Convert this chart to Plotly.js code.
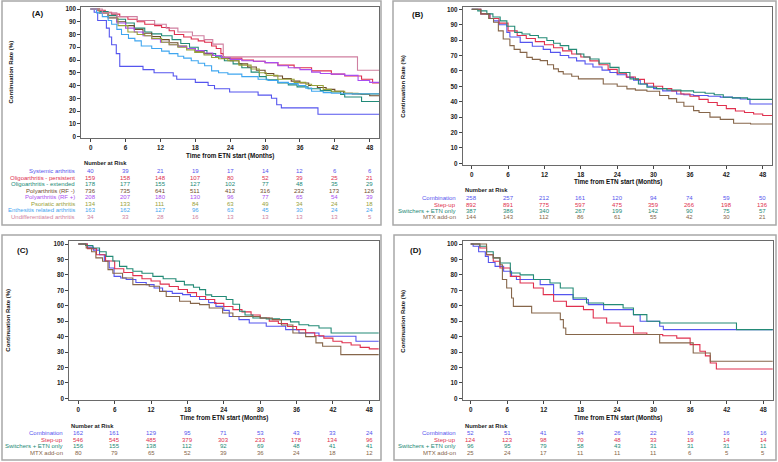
<!DOCTYPE html>
<html>
<head>
<meta charset="utf-8">
<script src="https://cdn.plot.ly/plotly-3.0.1.min.js"></script>
<style>html,body{margin:0;padding:0;background:#fff}#chart{width:778px;height:462px}</style>
</head>
<body>
<div id="chart"></div>
<script>
// months shown in the number-at-risk tables
const riskTimes = [0, 6, 12, 18, 24, 30, 36, 42, 48];

// ---- panel A: JIA categories ----
const aNames = ['Systemic arthritis', 'Oligoarthritis - persistent', 'Oligoarthritis - extended', 'Polyarthritis (RF -)',
  'Polyarthritis (RF +)', 'Psoriatic arthritis', 'Enthesitis related arthritis', 'Undifferentiated arthritis'];
const aRisk = [
  [40, 39, 21, 19, 17, 14, 12, 6, 6],
  [159, 158, 148, 107, 80, 52, 39, 25, 21],
  [178, 177, 155, 127, 102, 77, 48, 35, 29],
  [736, 735, 641, 511, 413, 316, 232, 173, 126],
  [208, 207, 180, 130, 96, 77, 65, 54, 39],
  [134, 133, 111, 84, 63, 49, 34, 24, 18],
  [163, 162, 127, 96, 63, 45, 30, 24, 24],
  [34, 33, 28, 16, 13, 13, 13, 13, 5],
];
const sysT = [0, 0.6, 1.2, 2.7, 3.2, 3.6, 4.4, 5.0, 9.0, 10.9, 14.2, 14.8, 18.0, 20.2, 21.3, 23.9, 28.8, 31.1, 32.0, 32.8, 39.1, 49.7];
const sysS = [100, 97.5, 91, 85, 78, 72, 65, 55, 52.5, 50, 47.5, 45, 42.5, 40, 37.5, 35, 32.5, 30, 25, 22.5, 17.5, 17.5];
const opT = [0, 1, 2.5, 3.6, 5, 6.4, 8, 9.3, 11, 12.2, 13.5, 14.4, 16, 17.3, 18.5, 19.6, 20.8, 21.6, 22.4, 22.8, 26, 28, 30, 32.2, 35, 38, 41.4, 43.7, 46.6, 48.5, 49.7];
const opS = [100, 99, 97.5, 96, 94, 92, 90, 88, 87, 85.5, 83, 80, 78, 76.5, 75, 74, 71, 69, 65, 61.5, 60, 59, 58, 56, 54, 51.5, 49, 47.5, 45, 42, 41.5];
const oeT = [0, 1.5, 3, 4.5, 6, 7.5, 9.3, 10.5, 12.2, 14, 15.5, 17, 18.5, 20, 21.5, 23, 24.5, 26, 27.6, 29, 30.2, 32.2, 34, 35.5, 37.4, 39.5, 41.4, 43, 43.7, 46.6, 49.7];
const oeS = [100, 98, 95, 92, 89, 85, 82, 80.5, 79, 76, 73, 70, 67.5, 65, 62.5, 59.5, 57, 54, 50.5, 47, 44.5, 42, 40.5, 39, 37.5, 36, 35, 33, 31, 27.5, 27];
const pnT = [0, 1.5, 3, 4.5, 6, 7.5, 9, 10.5, 12, 13.5, 15, 16.5, 18, 19.5, 21, 22.5, 24, 25.5, 27, 28.5, 30, 31.5, 33, 34.5, 36, 37.5, 39, 40.5, 42, 43.5, 45, 46.5, 48, 49.7];
const pnS = [100, 97, 93.5, 90, 87, 84, 81, 78.5, 76, 73.5, 71, 69, 67, 65, 63.5, 61.5, 59.5, 57, 54.5, 52, 49.5, 47.5, 45.5, 43.5, 42, 40, 38.5, 37, 35.5, 34, 33.5, 33, 32, 31.5];
const ppT = [0, 1.5, 3, 4.5, 6, 7.5, 9, 10.5, 12, 13.5, 15, 16.5, 18, 19.5, 21, 22.5, 24, 26, 28, 30, 32.2, 34, 36, 38, 39.5, 41.4, 43.7, 46, 48, 49.7];
const ppS = [100, 97, 93, 89, 85, 82, 79, 76.5, 74, 72, 70.5, 69, 67.5, 65.5, 63.5, 62, 60.5, 59.5, 59, 58, 55.5, 54, 52.5, 50.5, 49.5, 49, 48, 44, 42.5, 42.5];
const psT = [0, 1.5, 3, 4.7, 6.4, 8, 9.3, 10.5, 12.2, 13.5, 15, 16.5, 17.9, 19.5, 20.8, 22, 23.6, 25.5, 27.6, 29, 30.2, 32.2, 35, 37, 38, 40, 41.4, 43.7, 46, 49.7];
const psS = [100, 97, 93, 87, 82, 80, 79, 77, 74, 72, 70, 68, 66, 64, 62, 61, 59.5, 56, 53, 50, 48, 45, 42.5, 41, 40, 37, 35.5, 34, 33.5, 33.5];
const erT = [0, 1, 2, 3, 3.6, 4.5, 5.3, 6.5, 7.6, 8.7, 10.5, 12.2, 13.5, 15, 16, 17.3, 18.5, 19.6, 20.8, 22, 23.6, 26, 28.8, 30.5, 32.2, 34, 35.7, 37, 38, 40, 41.4, 43.7, 49.7];
const erS = [100, 97, 94, 91, 88, 84, 80, 77, 75, 71, 69, 67, 65, 63, 61.5, 59.5, 57.5, 55.5, 51.5, 50, 49, 47, 45, 44, 42.5, 41.5, 40, 38, 35.5, 34.5, 34, 33.5, 33.5];
const udT = [0, 2, 4.5, 8, 11, 13, 15, 17.5, 19.5, 21, 22.8, 45.9, 49.7];
const udS = [100, 97, 94, 91, 88, 85, 82, 79, 76, 72.5, 62.5, 52, 52];

// ---- panels B-D: treatment strategies ----
const stratNames = ['Combination', 'Step-up', 'Switchers + ETN only', 'MTX add-on'];
const bRisk = [
  [258, 257, 212, 161, 120, 94, 74, 59, 50],
  [892, 891, 775, 597, 475, 359, 266, 198, 136],
  [387, 386, 340, 267, 199, 142, 90, 75, 57],
  [144, 143, 112, 86, 61, 55, 42, 30, 21],
];
const cRisk = [
  [162, 161, 129, 95, 71, 53, 43, 33, 24],
  [546, 545, 485, 379, 303, 233, 178, 134, 96],
  [156, 155, 138, 112, 92, 69, 48, 41, 41],
  [80, 79, 65, 52, 39, 36, 24, 18, 12],
];
const dRisk = [
  [52, 51, 41, 34, 26, 22, 16, 16, 16],
  [124, 123, 98, 70, 48, 33, 19, 14, 14],
  [96, 95, 79, 58, 43, 31, 31, 31, 11],
  [25, 24, 17, 11, 11, 11, 6, 5, 5],
];

const bCoT = [0, 1.5, 3, 3.6, 4.5, 5.8, 6.3, 8, 10, 11.8, 13, 14.6, 16, 17.3, 18.7, 20, 21.5, 22.8, 24, 25.6, 26.7, 27.8, 29, 30, 31.5, 33.8, 35, 36.6, 39, 41, 43, 44.3, 45.9, 49.7];
const bCoS = [100, 97, 94, 92.5, 90, 85, 82, 78.5, 76, 74, 72, 70, 68.5, 66.5, 64.5, 62.5, 60.5, 59, 57.5, 55.8, 54, 51.5, 50, 48.5, 47, 45, 44.5, 44, 43.5, 43, 42.5, 41.8, 38.5, 38.5];
const bSuT = [0, 1.5, 3, 4.5, 6, 7.5, 9, 10.5, 12, 13.5, 15, 16.5, 18, 19.5, 21, 22.5, 24, 25.5, 27, 28.5, 30, 31.5, 33, 34.5, 36, 37.5, 39, 40.5, 42, 43.5, 45, 46.5, 48, 49.7];
const bSuS = [100, 97, 94, 91, 86, 83, 81, 79, 77, 75, 73, 71, 69, 66.5, 64, 61, 58.5, 56, 54.5, 52, 50, 48.5, 47, 45, 43.5, 41.5, 39.5, 37.5, 35.5, 34, 33, 32, 31, 30];
const bSwT = [0, 1, 2.5, 3.5, 4.7, 5.8, 7.1, 8.3, 9.6, 11, 12.4, 13.5, 14.6, 16, 17.3, 18.5, 19.5, 21, 22.8, 24.3, 26.1, 27.5, 28.9, 30.5, 32.2, 34.5, 36.6, 38.5, 40, 41.5, 43, 45.5, 49.7];
const bSwS = [100, 99, 97, 95, 92.5, 89, 85, 84, 83, 81.5, 79.7, 78, 76.4, 74, 71, 69, 67.7, 65, 62.3, 59, 54.8, 51.5, 49.4, 48.5, 47.6, 47, 46.1, 45.5, 44.5, 42.9, 42.5, 41.5, 41.1];
const bMxT = [0, 1.5, 2.8, 3.6, 4.4, 5.2, 6.3, 7, 8, 9.1, 10, 11.3, 12.5, 13.5, 14.3, 15.1, 16.5, 17.6, 19.5, 21.7, 24, 25.6, 27, 28.9, 31, 32.5, 33.8, 35, 36.6, 37.5, 39.3, 41, 43.2, 46, 49.7];
const bMxS = [100, 97, 94, 91.6, 86, 80.7, 76.4, 74, 72, 68.8, 67.5, 66.7, 64, 61.3, 59.5, 58, 56.5, 54.8, 54.8, 51.5, 50, 48.3, 47.5, 46.8, 44, 42, 39.6, 37, 34.2, 33, 30, 28.5, 26, 25.5, 24.5];

const cCoT = [0, 1.5, 2.5, 3.5, 4.3, 5.1, 5.9, 7, 7.9, 9.5, 11.2, 12.5, 13.9, 15.5, 17.2, 18.5, 20, 21.5, 22.7, 24, 24.9, 26.5, 28.2, 31, 34.2, 36.4, 39.7, 45.8, 49.7];
const cCoS = [100, 98, 96, 93, 89, 84.4, 79, 78, 77, 75, 73.7, 71.5, 69.3, 68, 67.2, 66, 64, 62, 59.6, 57, 53, 51, 48.8, 46.7, 44.5, 42.3, 40.2, 37, 37];
const cSuT = [0, 1.5, 3, 4.5, 6, 7.5, 9, 10.5, 12, 13.5, 15, 16.5, 18, 19.5, 21, 22.5, 24, 25.5, 27, 28.5, 30, 31.5, 33, 34.5, 36, 37.5, 39, 40.5, 42, 43.5, 45, 46.5, 48, 49.7];
const cSuS = [100, 97, 93, 89, 84, 81.5, 79.5, 77.5, 76, 74, 72.5, 70.5, 68.5, 66, 64, 61.5, 59.5, 57.5, 56, 54, 52, 50, 48.5, 46.5, 44.5, 42.5, 40.5, 39, 37, 36, 34.5, 33, 32, 31];
const cSwT = [0, 1.2, 2.4, 3.5, 4.6, 5.7, 6.8, 8, 9, 10.5, 12.3, 14, 16.1, 17.5, 19, 20, 21, 22, 24.4, 25.5, 26.6, 27.5, 28.8, 31, 33.2, 35, 36.4, 38, 39.7, 41.7, 49.7];
const cSwS = [100, 99, 97.4, 95, 92, 89, 85.5, 84, 82.3, 81, 79, 77.5, 75.8, 73.5, 72, 70.4, 67, 66, 64, 61, 56.4, 54, 52, 51.5, 51, 49.5, 47.7, 47, 45.6, 42.3, 41.3];
const cMxT = [0, 1.3, 2.2, 2.9, 4, 4.9, 5.7, 7.3, 9, 11.7, 13.4, 14.5, 16.7, 18.5, 20, 21.6, 23.8, 25.5, 27.7, 30, 32, 33.5, 35.4, 37.5, 39.2, 40.3, 43.3, 49.7];
const cMxS = [100, 97.4, 95, 91, 88.8, 83.4, 81, 78, 73.7, 72.6, 69.3, 66, 62.9, 61.5, 60.7, 58.5, 55.3, 53, 53, 52, 51, 47.5, 42.3, 40, 35.9, 33.7, 28.3, 28.3];

const dCoT = [0, 0.4, 1.3, 2.4, 2.9, 4, 5.4, 6.7, 7.5, 11.4, 13.6, 16.8, 19.3, 21.8, 26.7, 27.8, 31, 31.6, 49.7];
const dCoS = [100, 98.5, 95, 92, 88, 85.5, 82.3, 79, 77, 73.7, 67.2, 64, 60.7, 57.5, 54.2, 49.9, 46.7, 44.5, 44.5];
const dSuT = [0, 1.5, 2.6, 3.7, 4.8, 6.5, 8.1, 10.3, 11.9, 13.6, 15.7, 18.5, 20.1, 22.3, 24.5, 26.7, 28.9, 31.5, 33.8, 36, 37.6, 38.5, 39.3, 40.3, 49.7];
const dSuS = [100, 97.4, 93, 88.8, 84.4, 79, 74.7, 71.5, 67.2, 62.9, 59.6, 57.5, 52, 48.8, 46.7, 42.3, 41.3, 40.5, 39, 34.8, 30.5, 27.5, 22.9, 19, 19];
const dSwT = [0, 1.5, 2.6, 3.7, 4.8, 6.5, 8.1, 10.3, 13, 14.7, 16.8, 19, 21.8, 25, 26.7, 28.9, 31, 43.6, 49.7];
const dSwS = [100, 98.5, 95, 91, 87.7, 81.2, 80, 77, 74.7, 71.5, 65, 61.8, 60.7, 58.5, 54.2, 49.9, 48.8, 44.5, 44.5];
const dMxT = [0, 2.6, 3.7, 4.8, 5.2, 5.9, 6.7, 7, 10, 14.7, 15.2, 15.6, 31, 36.5, 39.3, 49.7];
const dMxS = [100, 93, 91, 86.6, 77, 71.5, 65, 59.6, 55.3, 51, 45.6, 41.3, 35.9, 29.4, 24, 24];

const aColors = ['#5555ee', '#dd2e4e', '#218a78', '#6e4c2c', '#a94ef0', '#98a23a', '#3fa6f0', '#cf7fa0'];
const stratColors = ['#5555ee', '#e0304e', '#238a76', '#86664a'];

const W = 778, H = 462;
const FONT = 'Liberation Sans, Arial, sans-serif';

// pixel geometry of each panel (frame box, where 0/48 months and 100/0 % fall)
const geo = [
  { frame: [81.3, 7, 379, 138], x0: 90.7, x48: 369.7, y100: 9, y0: 136.6, box: [2, 1, 381, 225],
    tag: '(A)', tagX: 37, tagY: 14, yTitleX: 10, xTitleY: 156, headY: 163, headX: 82, labelX: 77,
    rowY: [171, 177.5, 184, 190.5, 197, 203.5, 210, 216.5] },
  { frame: [462.7, 6.7, 772.3, 165], x0: 471.7, x48: 762.7, y100: 9.3, y0: 163.3, box: [393, 1, 776, 225],
    tag: '(B)', tagX: 417, tagY: 15, yTitleX: 403, xTitleY: 182, headY: 190, headX: 463, labelX: 458,
    rowY: [198, 204.5, 211, 217.5] },
  { frame: [69.3, 241.3, 378.7, 400], x0: 78.3, x48: 369.3, y100: 244, y0: 398.3, box: [2, 235, 381, 460],
    tag: '(C)', tagX: 22, tagY: 250, yTitleX: 8, xTitleY: 418, headY: 426, headX: 69, labelX: 65,
    rowY: [433, 439.5, 446, 452.5] },
  { frame: [462.7, 241.3, 772.7, 400], x0: 470.7, x48: 763.3, y100: 244, y0: 398.3, box: [394, 235, 776, 460],
    tag: '(D)', tagX: 416, tagY: 250, yTitleX: 403, xTitleY: 418, headY: 426, headX: 463, labelX: 458,
    rowY: [433, 439.5, 446, 452.5] },
];

const panelData = [
  { names: aNames, risk: aRisk, colors: aColors,
    curves: [[sysT, sysS], [opT, opS], [oeT, oeS], [pnT, pnS], [ppT, ppS], [psT, psS], [erT, erS], [udT, udS]] },
  { names: stratNames, risk: bRisk, colors: stratColors,
    curves: [[bCoT, bCoS], [bSuT, bSuS], [bSwT, bSwS], [bMxT, bMxS]] },
  { names: stratNames, risk: cRisk, colors: stratColors,
    curves: [[cCoT, cCoS], [cSuT, cSuS], [cSwT, cSwS], [cMxT, cMxS]] },
  { names: stratNames, risk: dRisk, colors: stratColors,
    curves: [[dCoT, dCoS], [dSuT, dSuS], [dSwT, dSwS], [dMxT, dMxS]] },
];

const px = (x) => x / W;
const py = (y) => 1 - y / H;

const traces = [];
const annotations = [];
const shapes = [];
const layout = {
  width: W,
  height: H,
  margin: { l: 0, r: 0, t: 0, b: 0 },
  paper_bgcolor: '#ffffff',
  plot_bgcolor: '#ffffff',
  showlegend: false,
  font: { family: FONT, color: '#222' },
};

geo.forEach((g, i) => {
  const n = i === 0 ? '' : String(i + 1);
  const xa = 'x' + n, ya = 'y' + n;
  const kx = (g.x48 - g.x0) / 48;
  const ky = (g.y0 - g.y100) / 100;
  const [l, t, r, b] = g.frame;
  const tickStyle = {
    ticks: 'outside', ticklen: 3, tickwidth: 1, tickcolor: '#444',
    showline: true, mirror: true, linecolor: '#6a6a6a', linewidth: 1,
    showgrid: false, zeroline: false,
    tickfont: { family: FONT, size: 6.3, color: '#222', weight: 'bold' },
  };
  layout['xaxis' + n] = Object.assign({}, tickStyle, {
    domain: [px(l), px(r)],
    range: [(l - g.x0) / kx, (r - g.x0) / kx],
    tickvals: riskTimes,
    anchor: ya,
  });
  layout['yaxis' + n] = Object.assign({}, tickStyle, {
    domain: [py(b), py(t)],
    range: [-(b - g.y0) / ky, 100 + (g.y100 - t) / ky],
    tickvals: [0, 10, 20, 30, 40, 50, 60, 70, 80, 90, 100],
    anchor: xa,
  });

  const pd = panelData[i];
  pd.curves.forEach(([T, S], j) => {
    traces.push({
      x: T, y: S, type: 'scatter', mode: 'lines',
      line: { shape: 'hv', color: pd.colors[j], width: 1.1 },
      xaxis: xa, yaxis: ya, hoverinfo: 'skip',
    });
  });

  // panel frame
  shapes.push({
    type: 'rect', xref: 'paper', yref: 'paper',
    x0: px(g.box[0]), x1: px(g.box[2]), y0: py(g.box[3]), y1: py(g.box[1]),
    line: { color: '#a8a8a8', width: 1.5 },
  });

  annotations.push({
    text: g.tag, xref: 'paper', yref: 'paper', x: px(g.tagX), y: py(g.tagY),
    showarrow: false, xanchor: 'center', yanchor: 'middle',
    font: { family: FONT, size: 8, color: '#111', weight: 'bold' },
  });
  annotations.push({
    text: 'Continuation Rate (%)', xref: 'paper', yref: 'paper', textangle: -90,
    x: px(g.yTitleX), y: py((t + b) / 2), showarrow: false, xanchor: 'center', yanchor: 'middle',
    font: { family: FONT, size: 6, color: '#111', weight: 'bold' },
  });
  annotations.push({
    text: 'Time from ETN start (Months)', xref: 'paper', yref: 'paper',
    x: px((l + r) / 2), y: py(g.xTitleY), showarrow: false, xanchor: 'center', yanchor: 'middle',
    font: { family: FONT, size: 6.3, color: '#111', weight: 'bold' },
  });
  annotations.push({
    text: 'Number at Risk', xref: 'paper', yref: 'paper',
    x: px(g.headX), y: py(g.headY), showarrow: false, xanchor: 'left', yanchor: 'middle',
    font: { family: FONT, size: 5.8, color: '#222', weight: 'bold' },
  });
  pd.names.forEach((name, j) => {
    const yy = py(g.rowY[j]);
    annotations.push({
      text: name, xref: 'paper', yref: 'paper', x: px(g.labelX), y: yy,
      showarrow: false, xanchor: 'right', yanchor: 'middle',
      font: { family: FONT, size: 6, color: pd.colors[j] },
    });
    pd.risk[j].forEach((v, k) => {
      annotations.push({
        text: String(v), xref: xa, yref: 'paper', x: riskTimes[k], y: yy,
        showarrow: false, xanchor: 'center', yanchor: 'middle',
        font: { family: FONT, size: 6, color: pd.colors[j] },
      });
    });
  });
});

layout.annotations = annotations;
layout.shapes = shapes;

Plotly.newPlot('chart', traces, layout, { staticPlot: true, displayModeBar: false });
</script>
</body>
</html>
